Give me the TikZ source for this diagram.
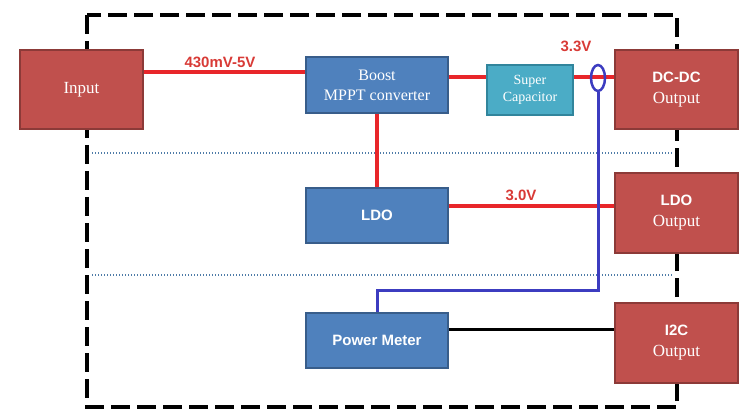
\documentclass[tikz,border=0pt]{standalone}
\usepackage{fontspec}
\usetikzlibrary{shapes.geometric}
\setmainfont{Liberation Serif}
\setsansfont{Liberation Sans}
\definecolor{boxred}{HTML}{C0504D}
\definecolor{boxredline}{HTML}{8C3A38}
\definecolor{boxblue}{HTML}{4F81BD}
\definecolor{boxblueline}{HTML}{385D8A}
\definecolor{boxcyan}{HTML}{4BACC6}
\definecolor{boxcyanline}{HTML}{31859C}
\definecolor{wire}{HTML}{E8262A}
\definecolor{probe}{HTML}{3C3CC0}
\definecolor{labred}{HTML}{D83A36}
\definecolor{dotcol}{HTML}{4F7CA8}
\tikzset{
  basebox/.style={rectangle, line width=1.5pt, text=white, align=center, inner sep=0pt},
  outbox/.style={basebox, fill=boxred, draw=boxredline, minimum width=123pt, minimum height=80pt},
  bluebox/.style={basebox, fill=boxblue, draw=boxblueline, minimum width=142pt, minimum height=56pt},
  capbox/.style={basebox, fill=boxcyan, draw=boxcyanline, minimum width=86pt, minimum height=50pt},
  serifbig/.style={font=\fontsize{16}{20}\selectfont},
  sanshead/.style={font=\sffamily\bfseries\fontsize{15}{17}\selectfont},
  redwire/.style={draw=wire, line width=4pt},
  bluewire/.style={draw=probe, line width=3pt},
  blackwire/.style={draw=black, line width=2.5pt},
  frame/.style={draw=black, line width=4pt, dash pattern=on 19pt off 7pt},
  sepline/.style={draw=dotcol, line width=1.3pt, dash pattern=on 1.3pt off 1.7pt},
  vlabel/.style={text=labred, font=\sffamily\bfseries\fontsize{15}{17}\selectfont, inner sep=0pt}
}
\begin{document}
\begin{tikzpicture}[x=1pt,y=-1pt]
\useasboundingbox (0,0) rectangle (742,409);
% frame and separators
\draw[frame] (87,15) rectangle (677,407);
\coordinate (s1l) at (92,153);
\coordinate (s1r) at (672,153);
\coordinate (s2l) at (92,275);
\coordinate (s2r) at (672,275);
\draw[sepline] (s1l) -- (s1r);
\draw[sepline] (s2l) -- (s2r);
% boxes
\node[outbox, minimum height=79pt, font=\fontsize{17}{20}\selectfont] (inp) at (81.5,89.5) {Input};
\node[bluebox, serifbig] (boost) at (377,85) {Boost\\MPPT converter};
\node[capbox, font=\fontsize{14}{17}\selectfont] (cap) at (530,90) {Super\\Capacitor};
\node[outbox, minimum height=79pt, font=\fontsize{17}{21}\selectfont] (dcdc) at (676.5,89.5) {{\sffamily\bfseries\fontsize{15}{21}\selectfont DC-DC}\\Output};
\node[bluebox, minimum height=55pt, sanshead] (ldo) at (377,215.5) {LDO};
\node[outbox, font=\fontsize{17}{21}\selectfont] (ldoout) at (676.5,213) {{\sffamily\bfseries\fontsize{15}{21}\selectfont LDO}\\Output};
\node[bluebox, minimum height=55pt, sanshead] (pm) at (377,340.5) {Power Meter};
\node[outbox, font=\fontsize{17}{21}\selectfont] (i2c) at (676.5,343) {{\sffamily\bfseries\fontsize{15}{21}\selectfont I2C}\\Output};
% connectors
\coordinate (a1) at ([yshift=-23pt]inp.north east);
\draw[redwire] (a1) -- (a1 -| boost.west);
\coordinate (b1) at ([yshift=-13pt]cap.north west);
\draw[redwire] (b1 -| boost.east) -- (b1);
\draw[redwire] (b1 -| cap.east) -- (b1 -| dcdc.west);
\draw[redwire] (boost.south) -- (ldo.north);
\coordinate (l1) at ([yshift=-19pt]ldo.north east);
\draw[redwire] (l1) -- (l1 -| ldoout.west);
\coordinate (p1) at ([yshift=-17pt]pm.north east);
\draw[blackwire] (p1) -- (p1 -| i2c.west);
% probe
\node[ellipse, draw=probe, line width=2.5pt, minimum width=14pt, minimum height=26pt, inner sep=0pt] (clamp) at (598,78) {};
\coordinate (t1) at (598,290);
\draw[bluewire] (clamp.south) -- (t1) -| (pm.north);
% labels
\node[vlabel] (lab1) at (220,62) {430mV-5V};
\node[vlabel] (lab2) at (576,46) {3.3V};
\node[vlabel] (lab3) at (521,195) {3.0V};
\end{tikzpicture}
\end{document}
